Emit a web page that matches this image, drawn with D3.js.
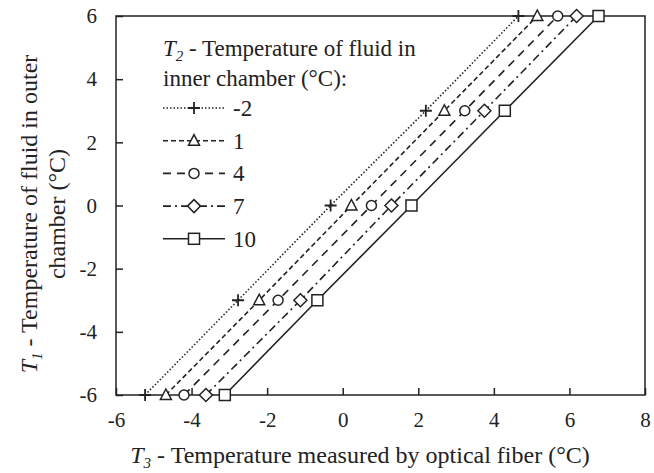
<!DOCTYPE html>
<html><head><meta charset="utf-8">
<script src="https://cdn.jsdelivr.net/npm/d3@7"></script>
</head><body style="margin:0"><svg id="c" width="654" height="473" style="display:block"></svg>
<script>
const seriesNames = ["-2","1","4","7","10"];
const t1Values = [-6,-3,0,3,6];
const s_m2 = [-5.23,-2.77,-0.32,2.20,4.65];
const s_1  = [-4.68,-2.21,0.23,2.69,5.15];
const s_4  = [-4.20,-1.71,0.76,3.23,5.69];
const s_7  = [-3.62,-1.12,1.29,3.75,6.19];
const s_10 = [-3.12,-0.67,1.82,4.29,6.77];
const xTicks = [-6,-4,-2,0,2,4,6,8];
const yTicks = [-6,-4,-2,0,2,4,6];

const allSeries = [s_m2,s_1,s_4,s_7,s_10];
const dashes = ["1.5,2","5,3","8,6","8,4,2,4",null];
const markers = ["plus","triangle","circle","diamond","square"];

const svg = d3.select("#c");
const L=116,R=645,T=16,B=395;
const x = d3.scaleLinear().domain([-6,8]).range([L,R]);
const y = d3.scaleLinear().domain([-6,6]).range([B,T]);
const ink="#222";
const TICKFS="21px", LEGFS="23px", TITFS="24px", SUB="15px";
const fmt = d=>String(d);

svg.append("rect").attr("x",L).attr("y",T).attr("width",R-L).attr("height",B-T)
  .attr("fill","none").attr("stroke",ink).attr("stroke-width",1.5);

const xa = svg.append("g").attr("transform",`translate(0,${B})`)
  .call(d3.axisBottom(x).tickValues(xTicks).tickSizeInner(-7).tickSizeOuter(0).tickPadding(17).tickFormat(fmt));
const ya = svg.append("g").attr("transform",`translate(${L},0)`)
  .call(d3.axisLeft(y).tickValues(yTicks).tickSizeInner(-7).tickSizeOuter(0).tickPadding(19).tickFormat(fmt));
[xa,ya].forEach(a=>{
  a.select(".domain").remove();
  a.selectAll("line").attr("stroke",ink).attr("stroke-width",1.5);
  a.selectAll("text").style("font-size",TICKFS);
});

function drawMarker(g,type,cx,cy){
  const st={fill:"#fff",stroke:ink,"stroke-width":1.5};
  let m;
  if(type==="plus"){
    g.append("path").attr("d",`M${cx-6},${cy}H${cx+6}M${cx},${cy-6}V${cy+6}`).attr("stroke",ink).attr("stroke-width",1.8);
    return;
  }
  if(type==="triangle") m=g.append("path").attr("d",`M${cx},${cy-6}L${cx+5.5},${cy+4.5}L${cx-5.5},${cy+4.5}Z`);
  if(type==="circle") m=g.append("circle").attr("cx",cx).attr("cy",cy).attr("r",5);
  if(type==="diamond") m=g.append("path").attr("d",`M${cx},${cy-6.5}L${cx+6.5},${cy}L${cx},${cy+6.5}L${cx-6.5},${cy}Z`);
  if(type==="square") m=g.append("rect").attr("x",cx-5.5).attr("y",cy-5.5).attr("width",11).attr("height",11);
  Object.entries(st).forEach(([k,v])=>m.attr(k,v));
}

const line = d3.line().x(d=>x(d[0])).y(d=>y(d[1]));
allSeries.forEach((s,i)=>{
  const pts = s.map((v,j)=>[v,t1Values[j]]);
  const g = svg.append("g");
  g.append("path").attr("d",line(pts)).attr("fill","none").attr("stroke",ink)
    .attr("stroke-width",1.6).attr("stroke-dasharray",dashes[i]);
  pts.forEach(p=>drawMarker(g,markers[i],x(p[0]),y(p[1])));
});

function sub(t,letter,idx,rest){
  t.append("tspan").style("font-style","italic").text(letter);
  t.append("tspan").style("font-style","italic").style("font-size",SUB).attr("dy",5).text(idx);
  t.append("tspan").style("font-style","normal").attr("dy",-5).text(rest);
}

// legend
const lg = svg.append("g");
sub(lg.append("text").attr("x",163).attr("y",56).style("font-size",LEGFS),"T","2"," - Temperature of fluid in");
lg.append("text").attr("x",163).attr("y",86).style("font-size",LEGFS).text("inner chamber (°C):");
seriesNames.forEach((n,i)=>{
  const yy = 108 + i*32.7;
  lg.append("path").attr("d",`M163,${yy}H225`).attr("stroke",ink).attr("stroke-width",1.6)
    .attr("stroke-dasharray",dashes[i]);
  drawMarker(lg,markers[i],194,yy);
  lg.append("text").attr("x",233).attr("y",yy+8).style("font-size",LEGFS).text(n);
});

// x title
sub(svg.append("text").attr("x",360).attr("y",463).attr("text-anchor","middle").style("font-size",TITFS),
  "T","3"," - Temperature measured by optical fiber (°C)");

// y title
const yt = svg.append("g").attr("transform","translate(0,214) rotate(-90)");
sub(yt.append("text").attr("x",0).attr("y",37).attr("text-anchor","middle").style("font-size",TITFS),
  "T","1"," - Temperature of fluid in outer");
yt.append("text").attr("x",0).attr("y",65).attr("text-anchor","middle").style("font-size",TITFS).text("chamber (°C)");

svg.selectAll("g").attr("font-family",null);
svg.selectAll("text, tspan").attr("font-family","Liberation Serif")
  .style("font-family",'"Liberation Serif"').attr("fill",ink);
svg.selectAll("text").filter(function(){return !this.style.fontStyle;}).style("font-style","normal");
</script></body></html>
